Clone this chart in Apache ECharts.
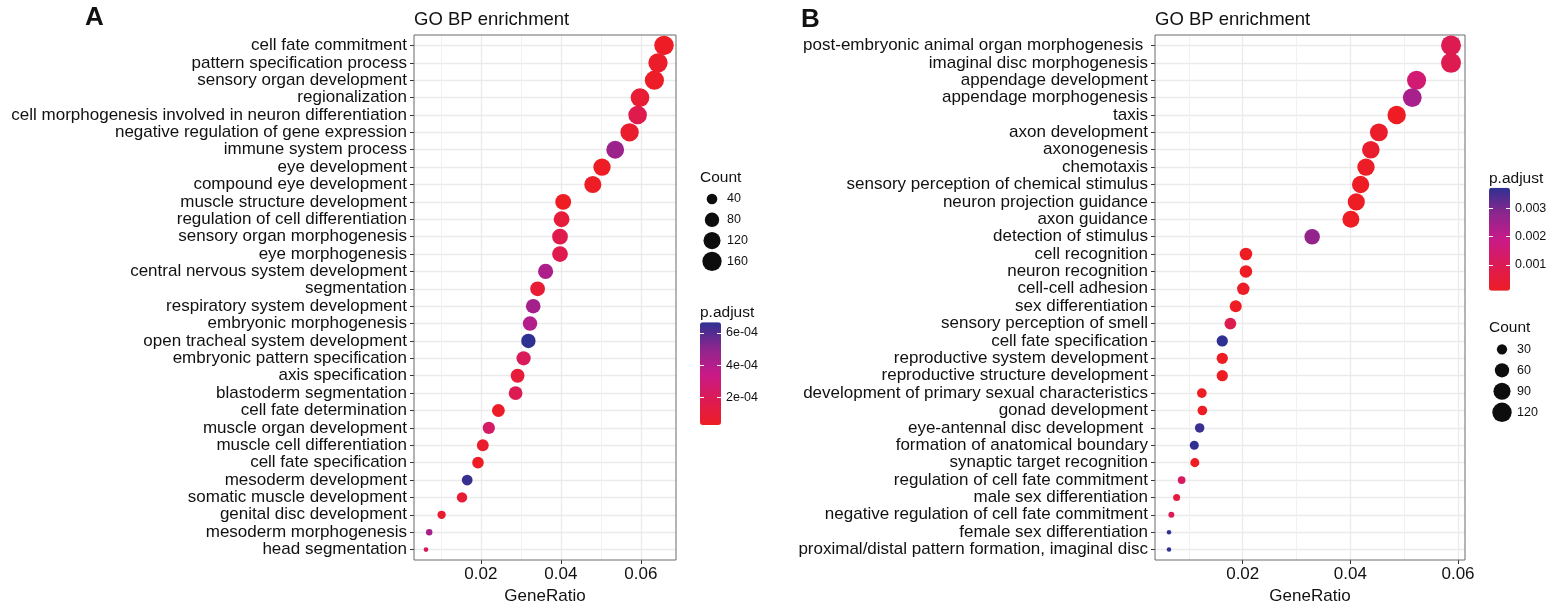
<!DOCTYPE html>
<html><head><meta charset="utf-8">
<script src="https://cdn.jsdelivr.net/npm/echarts@6/dist/echarts.min.js"></script>
<style>html,body{margin:0;padding:0;background:#fff}#c{width:1553px;height:607px}</style>
</head><body><div id="c"></div>
<script>
// ---------- Panel A data ----------
const categoriesA = [
  'cell fate commitment','pattern specification process','sensory organ development','regionalization',
  'cell morphogenesis involved in neuron differentiation','negative regulation of gene expression',
  'immune system process','eye development','compound eye development','muscle structure development',
  'regulation of cell differentiation','sensory organ morphogenesis','eye morphogenesis',
  'central nervous system development','segmentation','respiratory system development',
  'embryonic morphogenesis','open tracheal system development','embryonic pattern specification',
  'axis specification','blastoderm segmentation','cell fate determination','muscle organ development',
  'muscle cell differentiation','cell fate specification','mesoderm development','somatic muscle development',
  'genital disc development','mesoderm morphogenesis','head segmentation'
];
const geneRatioA = [0.0658,0.0643,0.0634,0.0598,0.0592,0.0572,0.0536,0.0503,0.0480,0.0406,
  0.0402,0.0398,0.0398,0.0362,0.0342,0.0331,0.0323,0.0319,0.0307,0.0292,
  0.0287,0.0244,0.0220,0.0205,0.0193,0.0166,0.0153,0.0102,0.0071,0.0063];
const countA = [165,161,158,150,148,143,134,126,120,101,100,99,99,90,85,83,81,80,77,73,72,61,55,51,48,41,38,25,18,16];
const padjA = [3e-5,5e-5,4e-5,8e-5,1.6e-4,6e-5,4.6e-4,3e-5,3e-5,2.8e-5,1e-4,1.6e-4,1.6e-4,4.2e-4,8e-5,
  4.4e-4,4.0e-4,6.66e-4,2.0e-4,1e-4,1.8e-4,4e-5,2.4e-4,6e-5,3e-5,6.5e-4,8e-5,6e-5,4.4e-4,2.2e-4];

// ---------- Panel B data ----------
const categoriesB = [
  'post-embryonic animal organ morphogenesis ','imaginal disc morphogenesis','appendage development',
  'appendage morphogenesis','taxis','axon development','axonogenesis','chemotaxis',
  'sensory perception of chemical stimulus','neuron projection guidance','axon guidance',
  'detection of stimulus','cell recognition','neuron recognition','cell-cell adhesion','sex differentiation',
  'sensory perception of smell','cell fate specification','reproductive system development',
  'reproductive structure development','development of primary sexual characteristics','gonad development',
  'eye-antennal disc development ','formation of anatomical boundary','synaptic target recognition',
  'regulation of cell fate commitment','male sex differentiation','negative regulation of cell fate commitment',
  'female sex differentiation','proximal/distal pattern formation, imaginal disc'
];
const geneRatioB = [0.0587,0.0587,0.0523,0.0515,0.0486,0.0453,0.0438,0.0429,0.0419,0.0411,
  0.0401,0.0329,0.0206,0.0206,0.0201,0.0187,0.0177,0.0162,0.0162,0.0162,
  0.0124,0.0125,0.0120,0.0110,0.0111,0.00865,0.00772,0.00674,0.0063,0.0063];
const countB = [129,129,115,113,107,100,96,94,92,90,88,72,45,45,44,41,39,36,36,36,27,27,26,24,24,19,17,15,14,14];
const padjB = [9e-4,9e-4,1.5e-3,2.4e-3,1e-4,2e-4,3e-4,1.5e-4,1e-4,1e-4,1e-4,2.7e-3,9.2e-5,1e-4,1.5e-4,
  1e-4,9e-4,3.73e-3,1e-4,1e-4,1e-4,1e-4,3.6e-3,3.7e-3,1e-4,1.2e-3,6e-4,1.0e-3,3.7e-3,3.7e-3];

// ---------- tick labels / legend keys ----------
const xTicks = [0.02,0.04,0.06];
const xMinorTicks = [0.01,0.03,0.05];
const countLegendA = [40,80,120,160];
const countLegendB = [30,60,90,120];
const padjTicksA = [2e-4,4e-4,6e-4];
const padjTicksB = [0.001,0.002,0.003];

// ---------- styling ----------
const FONT = "'Liberation Sans', Arial, Helvetica, sans-serif";
const gradient = ['#EE1D24','#DC1B55','#C81A89','#8B268D','#2E3192'];

function sizeScale(counts, dMin, dMax){
  const cMin = Math.min(...counts), cMax = Math.max(...counts);
  return c => dMin + (dMax - dMin) * Math.sqrt(Math.max(0, c - cMin) / (cMax - cMin));
}
const sizeA = sizeScale(countA, 4.7, 19.5);
const sizeB = sizeScale(countB, 4.5, 20);
const idx = arr => arr.map((_, i) => i);
const fmtE = v => v.toExponential(0).replace(/e([+-])(\d)$/, 'e$10$2');

function mainX(gridIndex, xmin, xmax){
  return { type:'value', gridIndex, min:xmin, max:xmax, position:'bottom',
      axisLine:{show:false, onZero:false},
      axisTick:{show:true, length:4, lineStyle:{color:'#333', width:1}, customValues:xTicks},
      axisLabel:{customValues:xTicks, color:'#111', fontSize:17, fontFamily:FONT, margin:6,
        formatter:v => v.toFixed(2)},
      splitLine:{show:true, lineStyle:{color:'#EBEBEB', width:1.3}},
      name:'GeneRatio', nameLocation:'middle', nameGap:24,
      nameTextStyle:{color:'#111', fontSize:17, fontFamily:FONT} };
}
function minorX(gridIndex, xmin, xmax){
  return { type:'value', gridIndex, min:xmin, max:xmax, position:'bottom',
      axisLine:{show:false, onZero:false}, axisLabel:{show:false},
      axisTick:{show:false, customValues:xMinorTicks},
      splitLine:{show:true, lineStyle:{color:'#EFEFEF', width:0.9}} };
}
function mainY(gridIndex, cats){
  return { type:'value', gridIndex, min:-0.6, max:cats.length - 1 + 0.6, inverse:true,
      axisLine:{show:false, onZero:false},
      axisTick:{show:true, length:4, lineStyle:{color:'#333', width:1}, customValues:idx(cats)},
      axisLabel:{customValues:idx(cats), color:'#111', fontSize:17, fontFamily:FONT, margin:7,
        formatter:v => cats[v]},
      splitLine:{show:true, lineStyle:{color:'#EBEBEB', width:1.3}} };
}
function hiddenX(gridIndex, min, max){ return { type:'value', gridIndex, min, max, show:false, axisLine:{onZero:false} }; }
function hiddenY(gridIndex, min, max){ return { type:'value', gridIndex, min, max, show:false, axisLine:{onZero:false} }; }
function legendY(gridIndex, keys){
  return { type:'value', gridIndex, min:-0.5, max:keys.length - 0.5, inverse:true, position:'right',
    axisLine:{show:false, onZero:false}, axisTick:{show:false}, splitLine:{show:false},
    axisLabel:{customValues:idx(keys), formatter:v => String(keys[v]), color:'#111', fontSize:12.5, fontFamily:FONT, margin:5} };
}
function barY(gridIndex, vals, ticks, side, fmt){
  return { type:'value', gridIndex, min:Math.min(...vals), max:Math.max(...vals), position:side, z:10,
    axisLine:{show:false, onZero:false}, splitLine:{show:false},
    axisTick:{show:true, inside:true, length:4, customValues:ticks, lineStyle:{color:'#fff', width:1}},
    axisLabel:{show:side === 'right', customValues:ticks, formatter:fmt, color:'#111', fontSize:12.5, fontFamily:FONT, margin:5} };
}

const gridA = {left:414, top:35, width:262, height:525};
const gridB = {left:1155, top:35, width:310, height:525};
const frame = {show:true, borderColor:'#6a6a6a', borderWidth:1, backgroundColor:'transparent'};
const NB = {outerBoundsMode:'none', containLabel:false};

const option = {
  animation:false,
  backgroundColor:'#fff',
  title:[
    {text:'A', left:85, top:5, padding:0, textStyle:{fontSize:26, fontWeight:'bold', color:'#111', fontFamily:FONT}},
    {text:'GO BP enrichment', left:414, top:10, padding:0, textStyle:{fontSize:18.5, fontWeight:'normal', color:'#111', fontFamily:FONT}},
    {text:'B', left:801, top:7, padding:0, textStyle:{fontSize:26, fontWeight:'bold', color:'#111', fontFamily:FONT}},
    {text:'GO BP enrichment', left:1155, top:10, padding:0, textStyle:{fontSize:18.5, fontWeight:'normal', color:'#111', fontFamily:FONT}},
    {text:'Count', left:700, top:170, padding:0, textStyle:{fontSize:15.5, fontWeight:'normal', color:'#111', fontFamily:FONT}},
    {text:'p.adjust', left:700, top:305, padding:0, textStyle:{fontSize:15.5, fontWeight:'normal', color:'#111', fontFamily:FONT}},
    {text:'p.adjust', left:1489, top:171, padding:0, textStyle:{fontSize:15.5, fontWeight:'normal', color:'#111', fontFamily:FONT}},
    {text:'Count', left:1489, top:320, padding:0, textStyle:{fontSize:15.5, fontWeight:'normal', color:'#111', fontFamily:FONT}}
  ],
  grid:[
    Object.assign({}, gridA, frame, NB, {z:2}),                 // 0 main A
    Object.assign({left:702, top:188.6, width:20, height:83.2}, NB), // 1 size legend A
    Object.assign({left:700, top:322.3, width:21, height:102.7}, NB), // 2 colorbar A
    Object.assign({}, gridB, frame, NB, {z:2}),                 // 3 main B
    Object.assign({left:1492, top:338.8, width:20, height:84}, NB),  // 4 size legend B
    Object.assign({left:1489, top:187.7, width:21, height:103}, NB), // 5 colorbar B
    Object.assign({}, gridA, NB),                               // 6 minor grid A
    Object.assign({}, gridB, NB)                                // 7 minor grid B
  ],
  xAxis:[
    mainX(0, 0.0033, 0.0688), hiddenX(1,-1,1), hiddenX(2,0,1),
    mainX(3, 0.0037, 0.0613), hiddenX(4,-1,1), hiddenX(5,0,1),
    minorX(6, 0.0033, 0.0688), minorX(7, 0.0037, 0.0613)
  ],
  yAxis:[
    mainY(0, categoriesA), legendY(1, countLegendA),
    barY(2, padjA, padjTicksA, 'right', fmtE), barY(2, padjA, padjTicksA, 'left', fmtE),
    mainY(3, categoriesB), legendY(4, countLegendB),
    barY(5, padjB, padjTicksB, 'right', v => v.toFixed(3)), barY(5, padjB, padjTicksB, 'left', v => v.toFixed(3)),
    hiddenY(6, 0, 1), hiddenY(7, 0, 1)
  ],
  visualMap:[
    {type:'continuous', seriesIndex:0, dimension:3, min:Math.min(...padjA), max:Math.max(...padjA),
      inRange:{color:gradient}, left:700, top:322.3, itemWidth:21, itemHeight:102.7, padding:0,
      calculable:false, hoverLink:false, text:null, orient:'vertical'},
    {type:'continuous', seriesIndex:2, dimension:3, min:Math.min(...padjB), max:Math.max(...padjB),
      inRange:{color:gradient}, left:1489, top:187.7, itemWidth:21, itemHeight:103, padding:0,
      calculable:false, hoverLink:false, text:null, orient:'vertical'}
  ],
  series:[
    {type:'scatter', xAxisIndex:0, yAxisIndex:0, z:5,
      data:geneRatioA.map((g,i) => [g, i, countA[i], padjA[i]]),
      symbolSize:v => sizeA(v[2]), itemStyle:{opacity:1}},
    {type:'scatter', xAxisIndex:1, yAxisIndex:1,
      data:countLegendA.map((c,i) => [0, i, c]),
      symbolSize:v => sizeA(v[2]), itemStyle:{color:'#0d0d0d', opacity:1}},
    {type:'scatter', xAxisIndex:3, yAxisIndex:4, z:5,
      data:geneRatioB.map((g,i) => [g, i, countB[i], padjB[i]]),
      symbolSize:v => sizeB(v[2]), itemStyle:{opacity:1}},
    {type:'scatter', xAxisIndex:4, yAxisIndex:5,
      data:countLegendB.map((c,i) => [0, i, c]),
      symbolSize:v => sizeB(v[2]), itemStyle:{color:'#0d0d0d', opacity:1}}
  ]
};
const chart = echarts.init(document.getElementById('c'), null, {renderer:'canvas'});
chart.setOption(option);
</script>
</body></html>
